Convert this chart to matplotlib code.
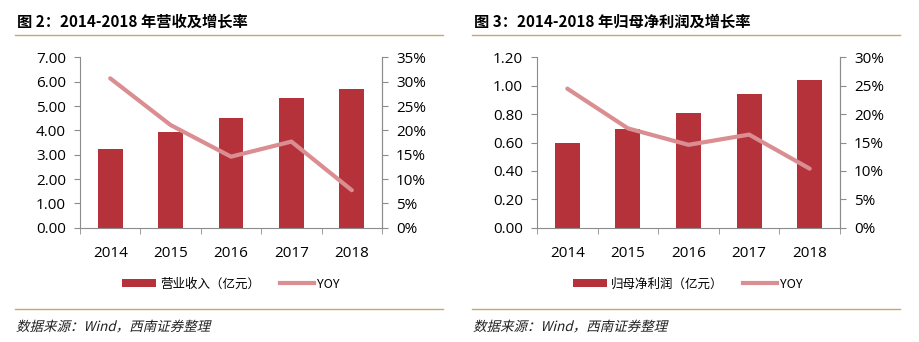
import matplotlib
matplotlib.use("Agg")
import matplotlib.pyplot as plt
from matplotlib.patches import Patch, PathPatch
from matplotlib.lines import Line2D
from matplotlib.textpath import TextPath
from matplotlib.font_manager import FontProperties
from matplotlib.transforms import Affine2D
from matplotlib.ticker import FuncFormatter

plt.rcParams["font.family"] = ["Noto Sans CJK SC", "DejaVu Sans"]

years = ["2014", "2015", "2016", "2017", "2018"]

# 图2: 营业收入 (亿元) 及 YOY
revenue = [3.23, 3.93, 4.51, 5.33, 5.70]
revenue_yoy = [30.7, 21.1, 14.6, 17.7, 7.7]

# 图3: 归母净利润 (亿元) 及 YOY
profit = [0.60, 0.695, 0.81, 0.94, 1.04]
profit_yoy = [24.5, 17.5, 14.6, 16.4, 10.4]

C_BAR = "#B5323A"
C_LINE = "#DB8E92"
C_GOLD = "#C9A866"
C_AXIS = "#8C8C8C"
TICK_FONT = ["Open Sans", "DejaVu Sans"]

W, H = 919, 342
fig = plt.figure(figsize=(W / 100, H / 100), dpi=100)
fig.patch.set_facecolor("white")


def fx(px):
    return px / W


def fy(py):
    return 1 - py / H


def italic_text(x_px, y_px, s, size_px):
    # CJK font has no italic face: shear the glyph outlines instead
    tp = TextPath((0, 0), s, size=size_px,
                  prop=FontProperties(family="Noto Sans CJK SC"))
    tr = Affine2D().skew_deg(14, 0).translate(x_px, H - y_px)
    fig.add_artist(PathPatch(tp, transform=tr, facecolor="#222222",
                             edgecolor="none"))


def panel(x0, x1, gold_x0, gold_x1, title, bars, yoy, ymax, ystep, rmax,
          bar_label, legend_cx):
    ax = fig.add_axes([fx(x0), fy(227.7), fx(x1 - x0), fy(57.4) - fy(227.7)])
    xs = range(len(years))
    ax.bar(xs, bars, width=0.41, color=C_BAR, zorder=2)
    ax.set_xlim(-0.5, len(years) - 0.5)
    ax.set_ylim(0, ymax)
    n = int(round(ymax / ystep))
    ax.set_yticks([i * ystep for i in range(n + 1)])
    ax.yaxis.set_major_formatter(FuncFormatter(lambda v, p: f"{v:.2f}"))
    ax.set_xticks(list(xs))
    ax.set_xticklabels(years)
    ax.set_xticks([i - 0.5 for i in range(len(years) + 1)], minor=True)
    ax.tick_params(axis="x", which="major", length=0, pad=13)
    ax.tick_params(axis="x", which="minor", length=4, direction="out",
                   color=C_AXIS)
    ax.tick_params(axis="y", length=4, direction="out", color=C_AXIS, pad=6)
    ax.spines["top"].set_visible(False)
    for s in ("left", "bottom", "right"):
        ax.spines[s].set_color(C_AXIS)
        ax.spines[s].set_linewidth(0.8)
    for lab in ax.get_xticklabels() + ax.get_yticklabels():
        lab.set_family(TICK_FONT)
        lab.set_fontsize(11)
        lab.set_color("#000000")

    ax2 = ax.twinx()
    ax2.plot(list(xs), yoy, color=C_LINE, linewidth=3, zorder=3,
             solid_capstyle="round", solid_joinstyle="round")
    ax2.set_ylim(0, rmax)
    ax2.set_yticks(list(range(0, rmax + 1, 5)))
    ax2.yaxis.set_major_formatter(FuncFormatter(lambda v, p: f"{v:.0f}%"))
    ax2.tick_params(axis="y", length=4, direction="out", color=C_AXIS, pad=6)
    for s in ("top", "left", "bottom"):
        ax2.spines[s].set_visible(False)
    ax2.spines["right"].set_color(C_AXIS)
    ax2.spines["right"].set_linewidth(0.8)
    for lab in ax2.get_yticklabels():
        lab.set_family(TICK_FONT)
        lab.set_fontsize(11)
        lab.set_color("#000000")

    fig.text(fx(gold_x0 + 2), fy(22), title, fontsize=11, fontweight="bold",
             va="center", ha="left", color="#000000")
    fig.add_artist(Line2D([fx(gold_x0), fx(gold_x1)], [fy(35), fy(35)],
                          color=C_GOLD, linewidth=1.0))
    fig.add_artist(Line2D([fx(gold_x0), fx(gold_x1)], [fy(309), fy(309)],
                          color=C_GOLD, linewidth=1.0))
    italic_text(gold_x0 + 1, 331, "数据来源：Wind，西南证券整理", 13.5)

    handles = [Patch(facecolor=C_BAR, edgecolor="none"),
               Line2D([], [], color=C_LINE, linewidth=3)]
    fig.legend(handles, [bar_label, "YOY"], loc="center",
               bbox_to_anchor=(fx(legend_cx), fy(284)), ncol=2, frameon=False,
               fontsize=9, handlelength=2.7, handleheight=0.55,
               columnspacing=1.6, handletextpad=0.3)


panel(80, 382, 15, 443, "图 2：2014-2018 年营收及增长率", revenue, revenue_yoy,
      7.0, 1.0, 35, "营业收入（亿元）", 231)
panel(537, 840, 472, 900, "图 3：2014-2018 年归母净利润及增长率", profit,
      profit_yoy, 1.2, 0.2, 30, "归母净利润（亿元）", 688)

fig.savefig("out.png", dpi=100, facecolor="white")
